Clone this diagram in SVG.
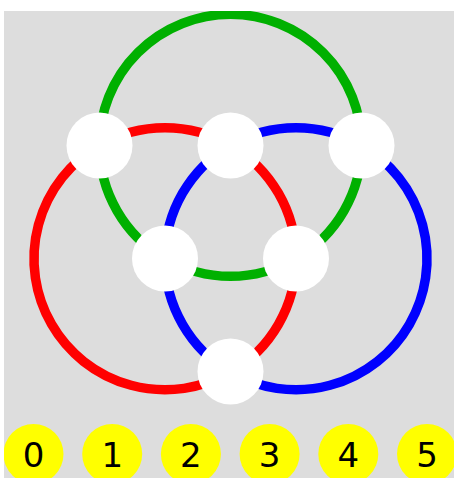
<svg xmlns="http://www.w3.org/2000/svg" width="454" height="478" viewBox="0 0 454 478">
<style>
.bg{fill:#dddddd}
.arc{fill:none;stroke-width:9.5}
.red{stroke:#ff0000}
.blue{stroke:#0000ff}
.green{stroke:#00b000}
.node{fill:#ffffff}
.badge{fill:#ffff00}
.lbl{font-family:"DejaVu Sans",sans-serif;font-size:34px;fill:#000000;text-anchor:middle}
</style>
<defs>
<clipPath id="area"><rect x="4" y="11" width="450" height="467"/></clipPath>
</defs>
<rect class="bg" x="4" y="11" width="450" height="467"/>
<g clip-path="url(#area)">
<g id="connectors">
<path class="arc red" d="M99.5,145.3 A131,131 0 0 1 230.5,145.3"/>
<path class="arc red" d="M230.5,145.3 A131,131 0 0 1 296,258.75"/>
<path class="arc red" d="M296,258.75 A131,131 0 0 1 230.5,372.2"/>
<path class="arc red" d="M230.5,372.2 A131,131 0 1 1 99.5,145.3"/>
<path class="arc blue" d="M230.5,145.3 A131,131 0 0 1 361.5,145.3"/>
<path class="arc blue" d="M361.5,145.3 A131,131 0 1 1 230.5,372.2"/>
<path class="arc blue" d="M230.5,372.2 A131,131 0 0 1 165,258.75"/>
<path class="arc blue" d="M165,258.75 A131,131 0 0 1 230.5,145.3"/>
<path class="arc green" d="M99.5,145.3 A131,131 0 1 1 361.5,145.3"/>
<path class="arc green" d="M361.5,145.3 A131,131 0 0 1 296,258.75"/>
<path class="arc green" d="M296,258.75 A131,131 0 0 1 165,258.75"/>
<path class="arc green" d="M165,258.75 A131,131 0 0 1 99.5,145.3"/>
</g>
<g id="node-top-left"><circle class="node" cx="99.5" cy="145.5" r="33"/></g>
<g id="node-top-mid"><circle class="node" cx="230.5" cy="145.5" r="33"/></g>
<g id="node-top-right"><circle class="node" cx="361.5" cy="145.5" r="33"/></g>
<g id="node-mid-left"><circle class="node" cx="165" cy="258.5" r="33"/></g>
<g id="node-mid-right"><circle class="node" cx="296" cy="258.5" r="33"/></g>
<g id="node-bottom"><circle class="node" cx="230.5" cy="371.5" r="33"/></g>
<g id="label-0"><circle class="badge" cx="33.5" cy="454" r="30"/><text class="lbl" x="33.5" y="467">0</text></g>
<g id="label-1"><circle class="badge" cx="112.2" cy="454" r="30"/><text class="lbl" x="112.2" y="467">1</text></g>
<g id="label-2"><circle class="badge" cx="190.9" cy="454" r="30"/><text class="lbl" x="190.9" y="467">2</text></g>
<g id="label-3"><circle class="badge" cx="269.6" cy="454" r="30"/><text class="lbl" x="269.6" y="467">3</text></g>
<g id="label-4"><circle class="badge" cx="348.3" cy="454" r="30"/><text class="lbl" x="348.3" y="467">4</text></g>
<g id="label-5"><circle class="badge" cx="427" cy="454" r="30"/><text class="lbl" x="427" y="467">5</text></g>
</g>
</svg>
